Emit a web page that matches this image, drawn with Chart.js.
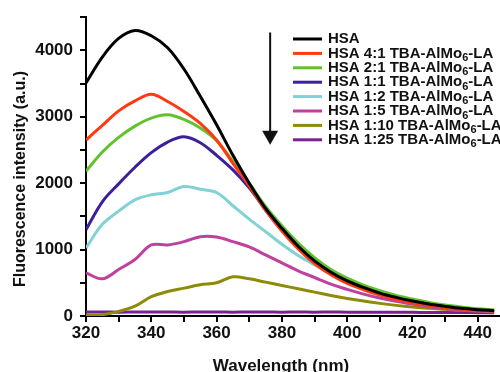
<!DOCTYPE html>
<html>
<head>
<meta charset="utf-8">
<script src="https://cdn.jsdelivr.net/npm/chart.js@4.4.1/dist/chart.umd.min.js"></script>
<style>
  html, body { margin: 0; padding: 0; background: #fff; }
</style>
</head>
<body>
<canvas id="spectra" width="500" height="372"></canvas>
<script>
// wavelength grid (nm)
const wavelengths = [320, 325, 330, 335, 340, 345, 350, 355, 360, 365, 370, 375, 380,
                     385, 390, 395, 400, 405, 410, 415, 420, 425, 430, 435, 440, 445];

// fluorescence intensity (a.u.)
const hsa      = [3510, 3900, 4180, 4300, 4220, 4040, 3720, 3310, 2880, 2420, 2000, 1620, 1320,
                  1050, 830, 660, 530, 430, 345, 280, 225, 180, 145, 115, 95, 80];
const ratio4_1 = [2650, 2870, 3090, 3240, 3340, 3230, 3080, 2900, 2650, 2300, 1960, 1590, 1280,
                  1010, 790, 620, 490, 395, 315, 250, 200, 160, 125, 100, 85, 70];
const ratio2_1 = [2180, 2470, 2690, 2860, 2980, 3030, 2960, 2830, 2640, 2330, 2000, 1650, 1360,
                  1100, 880, 700, 570, 465, 380, 310, 255, 205, 165, 135, 110, 95];
const ratio1_1 = [1300, 1720, 1990, 2240, 2460, 2620, 2700, 2610, 2420, 2200, 1930, 1600, 1300,
                  1030, 810, 640, 510, 410, 330, 265, 210, 170, 135, 108, 90, 75];
const ratio1_2 = [1025, 1380, 1580, 1750, 1825, 1860, 1950, 1910, 1860, 1660, 1460, 1270, 1080,
                  910, 770, 640, 530, 440, 360, 290, 230, 180, 140, 110, 85, 70];
const ratio1_5 = [650, 560, 700, 850, 1070, 1070, 1120, 1195, 1190, 1120, 1040, 920, 800,
                  680, 580, 480, 400, 330, 270, 220, 180, 140, 110, 90, 75, 65];
const ratio1_10 = [15, 20, 70, 150, 290, 370, 420, 470, 500, 590, 560, 510, 460,
                   410, 360, 310, 265, 225, 190, 160, 135, 115, 100, 85, 75, 65];
const ratio1_25 = [60, 62, 58, 60, 62, 60, 58, 62, 60, 58, 60, 60, 58,
                   60, 58, 60, 58, 56, 58, 55, 55, 52, 54, 52, 50, 50];

const seriesNames = ['HSA', 'HSA 4:1 TBA-AlMo₆-LA', 'HSA 2:1 TBA-AlMo₆-LA', 'HSA 1:1 TBA-AlMo₆-LA',
                     'HSA 1:2 TBA-AlMo₆-LA', 'HSA 1:5 TBA-AlMo₆-LA', 'HSA 1:10 TBA-AlMo₆-LA',
                     'HSA 1:25 TBA-AlMo₆-LA'];
const seriesValues = [hsa, ratio4_1, ratio2_1, ratio1_1, ratio1_2, ratio1_5, ratio1_10, ratio1_25];
const seriesColors = ['#000000', '#ff3a12', '#62c22e', '#3c1f9a', '#80d2d4', '#c0409e', '#8c8c08', '#7a2090'];

// tick labels shown on the axes
const xTickLabels = [320, 340, 360, 380, 400, 420, 440];
const yTickLabels = [0, 1000, 2000, 3000, 4000];

// quenching arrow (data coords)
const arrowX = 376.4, arrowTop = 4270, arrowTip = 2580;

const FONT = '"Liberation Sans", Arial, Helvetica, sans-serif';
Chart.defaults.font.family = FONT;
Chart.defaults.color = '#111';

// draw legend with a real subscript "6"
const legendPlugin = {
  id: 'subLegend',
  afterDraw(chart) {
    const ctx = chart.ctx;
    ctx.save();
    ctx.textBaseline = 'middle';
    chart.data.datasets.forEach((ds, i) => {
      const y = 39 + i * 14.4;
      ctx.strokeStyle = ds.borderColor;
      ctx.lineWidth = 3;
      ctx.beginPath();
      ctx.moveTo(293, y);
      ctx.lineTo(322, y);
      ctx.stroke();
      ctx.fillStyle = '#111';
      let x = 328;
      const parts = ds.label.split('₆');
      parts.forEach((p, k) => {
        ctx.font = 'bold 15px ' + FONT;
        ctx.fillText(p, x, y);
        x += ctx.measureText(p).width;
        if (k < parts.length - 1) {
          ctx.font = 'bold 11px ' + FONT;
          ctx.fillText('6', x, y + 4.5);
          x += ctx.measureText('6').width;
        }
      });
    });
    ctx.restore();
  }
};

// axis titles and arrow
const extrasPlugin = {
  id: 'extras',
  afterDraw(chart) {
    const ctx = chart.ctx;
    const xs = chart.scales.x, ys = chart.scales.y;
    ctx.save();
    ctx.fillStyle = '#111';
    ctx.font = 'bold 17px ' + FONT;
    ctx.textAlign = 'center';
    ctx.textBaseline = 'alphabetic';
    ctx.fillText('Wavelength (nm)', 281, 371);

    ctx.translate(21, 179);
    ctx.rotate(-Math.PI / 2);
    ctx.font = 'bold 16px ' + FONT;
    ctx.textBaseline = 'middle';
    ctx.fillText('Fluorescence intensity (a.u.)', 0, 0);
    ctx.restore();

    const ax = xs.getPixelForValue(arrowX);
    const ay0 = ys.getPixelForValue(arrowTop);
    const ay1 = ys.getPixelForValue(arrowTip);
    ctx.save();
    ctx.strokeStyle = '#111';
    ctx.fillStyle = '#111';
    ctx.lineWidth = 2;
    ctx.beginPath();
    ctx.moveTo(ax, ay0);
    ctx.lineTo(ax, ay1 - 10);
    ctx.stroke();
    ctx.beginPath();
    ctx.moveTo(ax - 8, ay1 - 14);
    ctx.lineTo(ax + 8, ay1 - 14);
    ctx.lineTo(ax, ay1);
    ctx.closePath();
    ctx.fill();
    ctx.restore();
  }
};

new Chart(document.getElementById('spectra'), {
  type: 'line',
  data: {
    datasets: seriesValues.map((vals, i) => ({
      label: seriesNames[i],
      data: vals.map((v, j) => ({ x: wavelengths[j], y: v })),
      borderColor: seriesColors[i],
      borderWidth: 3,
      pointRadius: 0,
      tension: 0.35,
      fill: false
    }))
  },
  options: {
    responsive: false,
    animation: false,
    devicePixelRatio: 1,
    layout: { padding: { top: 17, right: 0, left: 0, bottom: 0 } },
    plugins: { legend: { display: false }, tooltip: { enabled: false } },
    scales: {
      x: {
        type: 'linear',
        min: 320,
        max: 446.8,
        afterFit(scale) { scale.height = 56; },
        border: { color: '#000', width: 2 },
        grid: { drawOnChartArea: false, drawTicks: true, tickLength: 6, color: '#000', lineWidth: 2 },
        ticks: {
          stepSize: 10,
          includeBounds: false,
          autoSkip: false,
          maxRotation: 0,
          padding: 1,
          color: '#111',
          font: { size: 17, weight: 'bold' },
          callback: v => xTickLabels.includes(v) ? String(v) : ''
        }
      },
      y: {
        min: 0,
        max: 4500,
        afterFit(scale) { scale.width = 86; },
        border: { color: '#000', width: 2 },
        grid: { drawOnChartArea: false, drawTicks: true, tickLength: 6, color: '#000', lineWidth: 2 },
        ticks: {
          stepSize: 500,
          autoSkip: false,
          padding: 7,
          color: '#111',
          font: { size: 17, weight: 'bold' },
          callback: v => yTickLabels.includes(v) ? String(v) : ''
        }
      }
    }
  },
  plugins: [legendPlugin, extrasPlugin]
});
</script>
</body>
</html>
